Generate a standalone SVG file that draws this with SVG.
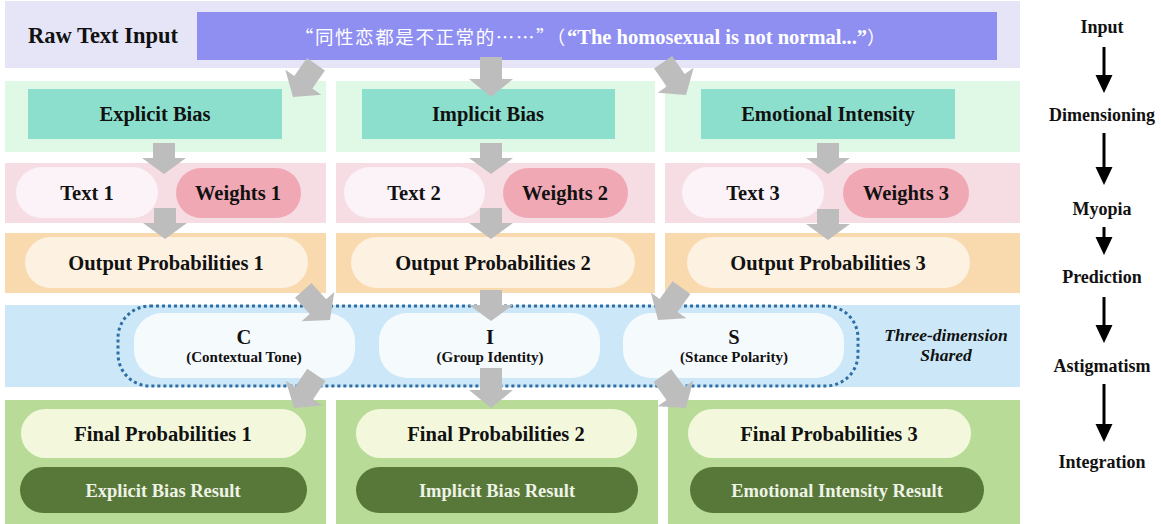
<svg xmlns="http://www.w3.org/2000/svg" width="1161" height="524" viewBox="0 0 1161 524">
<defs>
<style>
text{font-family:"Liberation Serif","Times New Roman",serif;font-weight:bold;fill:#111;text-anchor:middle}
.cjk{font-family:"Noto Sans CJK SC",sans-serif;font-weight:normal;font-size:18.5px;letter-spacing:1.6px}
.l18{font-size:20.5px}
.l20{font-size:22.5px}
.small{font-size:15px}
.side{font-size:18px}
.res{font-size:18.5px;fill:#eef3e6}
.band-lav{fill:#e5e5f7}
.band-mint{fill:#e0f8e6}
.band-pink{fill:#f5dde3}
.band-org{fill:#f9d9ae}
.band-blue{fill:#cce8f8}
.band-grn{fill:#b8dc98}
.teal{fill:#8ddfcd}
.tpill{fill:#fcf3f8}
.wpill{fill:#f0a8b5}
.opill{fill:#fdf1e1}
.cpill{fill:#f5fafd}
.fpill{fill:#f3f8dd}
.rpill{fill:#58783a}
.garrow{fill:#bdbdbd}
.barrow{stroke:#000;stroke-width:3;fill:none}
</style>
<path id="ga" d="M-11,-40 L11,-40 L11,-18 L22,-18 L0,0 L-22,-18 L-11,-18 Z"/>
<path id="gs" d="M-11,-31 L11,-31 L11,-16 L22,-16 L0,0 L-22,-16 L-11,-16 Z"/>
<path id="bh" d="M-8.5,-18 L8.5,-18 L0,0 Z"/>
</defs>
<rect width="1161" height="524" fill="#fff"/>

<g id="bands">
<rect class="band-lav" x="5" y="1" width="1015" height="67"/>
<rect class="band-mint" x="5" y="81" width="321" height="71"/>
<rect class="band-mint" x="336" y="81" width="319" height="71"/>
<rect class="band-mint" x="665" y="81" width="355" height="71"/>
<rect class="band-pink" x="5" y="163" width="321" height="60"/>
<rect class="band-pink" x="336" y="163" width="319" height="60"/>
<rect class="band-pink" x="665" y="163" width="355" height="60"/>
<rect class="band-org" x="5" y="233" width="321" height="60"/>
<rect class="band-org" x="336" y="233" width="319" height="60"/>
<rect class="band-org" x="665" y="233" width="355" height="60"/>
<rect class="band-blue" x="5" y="305" width="1015" height="82"/>
<rect class="band-grn" x="5" y="400" width="321" height="124"/>
<rect class="band-grn" x="336" y="400" width="322" height="124"/>
<rect class="band-grn" x="668" y="400" width="352" height="124"/>
</g>

<g id="raw-label"><text class="l20" x="103" y="43">Raw Text Input</text></g>
<g id="raw-input">
<rect x="197" y="12" width="800" height="48" fill="#8f8ff2"/>
<text x="591" y="44" style="font-size:20.5px;fill:#fff"><tspan class="cjk">“同性恋都是不正常的……”（</tspan>“The homosexual is not normal...”<tspan class="cjk">）</tspan></text>
</g>

<g id="explicit-bias"><rect class="teal" x="28" y="89" width="254" height="50"/><text class="l18" x="155" y="121">Explicit Bias</text></g>
<g id="implicit-bias"><rect class="teal" x="362" y="89" width="253" height="50"/><text class="l18" x="488" y="121">Implicit Bias</text></g>
<g id="emotional-intensity"><rect class="teal" x="701" y="89" width="254" height="50"/><text class="l18" x="828" y="121">Emotional Intensity</text></g>

<g id="text1"><rect class="tpill" x="16" y="167" width="142" height="51" rx="25.5"/><text class="l18" x="87" y="200">Text 1</text></g>
<g id="weights1"><rect class="wpill" x="176" y="168" width="125" height="50" rx="25"/><text class="l18" x="238" y="200">Weights 1</text></g>
<g id="text2"><rect class="tpill" x="344" y="167" width="141" height="51" rx="25.5"/><text class="l18" x="414" y="200">Text 2</text></g>
<g id="weights2"><rect class="wpill" x="503" y="168" width="125" height="50" rx="25"/><text class="l18" x="565" y="200">Weights 2</text></g>
<g id="text3"><rect class="tpill" x="682" y="167" width="142" height="51" rx="25.5"/><text class="l18" x="753" y="200">Text 3</text></g>
<g id="weights3"><rect class="wpill" x="843" y="168" width="126" height="50" rx="25"/><text class="l18" x="906" y="200">Weights 3</text></g>

<g id="output1"><rect class="opill" x="25" y="237" width="283" height="51" rx="25.5"/><text class="l18" x="166" y="270">Output Probabilities 1</text></g>
<g id="output2"><rect class="opill" x="351" y="237" width="284" height="51" rx="25.5"/><text class="l18" x="493" y="270">Output Probabilities 2</text></g>
<g id="output3"><rect class="opill" x="687" y="237" width="283" height="51" rx="25.5"/><text class="l18" x="828" y="270">Output Probabilities 3</text></g>

<g id="shared">
<rect x="118" y="306" width="740" height="80" rx="32" fill="none" stroke="#2f6ea5" stroke-width="3" stroke-dasharray="3 3"/>
<text x="946" y="341" style="font-size:17.5px;font-style:italic">Three-dimension</text>
<text x="946" y="361" style="font-size:17.5px;font-style:italic">Shared</text>
</g>
<g id="c-node"><rect class="cpill" x="134" y="313" width="221" height="65" rx="28"/><text class="l18" x="244" y="344">C</text><text class="small" x="244" y="362">(Contextual Tone)</text></g>
<g id="i-node"><rect class="cpill" x="379" y="313" width="221" height="65" rx="28"/><text class="l18" x="490" y="344">I</text><text class="small" x="490" y="362">(Group Identity)</text></g>
<g id="s-node"><rect class="cpill" x="623" y="313" width="221" height="65" rx="28"/><text class="l18" x="734" y="344">S</text><text class="small" x="734" y="362">(Stance Polarity)</text></g>

<g id="final1"><rect class="fpill" x="21" y="409" width="285" height="49" rx="24.5"/><text class="l18" x="163" y="441">Final Probabilities 1</text></g>
<g id="final2"><rect class="fpill" x="356" y="409" width="281" height="49" rx="24.5"/><text class="l18" x="496" y="441">Final Probabilities 2</text></g>
<g id="final3"><rect class="fpill" x="688" y="409" width="283" height="49" rx="24.5"/><text class="l18" x="829" y="441">Final Probabilities 3</text></g>

<g id="result1"><rect class="rpill" x="20" y="467" width="287" height="46" rx="23"/><text class="res" x="163" y="497">Explicit Bias Result</text></g>
<g id="result2"><rect class="rpill" x="356" y="467" width="282" height="46" rx="23"/><text class="res" x="497" y="497">Implicit Bias Result</text></g>
<g id="result3"><rect class="rpill" x="690" y="467" width="294" height="46" rx="23"/><text class="res" x="837" y="497">Emotional Intensity Result</text></g>

<g id="stages">
<text class="side" x="1102" y="33">Input</text>
<text class="side" x="1102" y="121">Dimensioning</text>
<text class="side" x="1102" y="215">Myopia</text>
<text class="side" x="1102" y="283">Prediction</text>
<text class="side" x="1102" y="372">Astigmatism</text>
<text class="side" x="1102" y="468">Integration</text>
</g>

<g id="connectors">
<g class="garrow">
<use href="#ga" transform="translate(293,97) rotate(35)"/>
<use href="#ga" transform="translate(491,97)"/>
<use href="#ga" transform="translate(686,95) rotate(-35)"/>
<use href="#gs" transform="translate(164,174)"/>
<use href="#gs" transform="translate(165,239)"/>
<use href="#gs" transform="translate(491,174)"/>
<use href="#gs" transform="translate(491,239)"/>
<use href="#gs" transform="translate(828,174)"/>
<use href="#gs" transform="translate(828,240)"/>
<use href="#ga" transform="translate(330,320) rotate(-42)"/>
<use href="#gs" transform="translate(491,321)"/>
<use href="#ga" transform="translate(658,320) rotate(36)"/>
<use href="#ga" transform="translate(294,408) rotate(34)"/>
<use href="#ga" transform="translate(491,408)"/>
<use href="#ga" transform="translate(686,408) rotate(-36)"/>
</g>
<g>
<line class="barrow" x1="1104" y1="47" x2="1104" y2="77"/><use href="#bh" transform="translate(1104,93)"/>
<line class="barrow" x1="1104" y1="133" x2="1104" y2="169"/><use href="#bh" transform="translate(1104,185)"/>
<line class="barrow" x1="1104" y1="227" x2="1104" y2="239"/><use href="#bh" transform="translate(1104,255)"/>
<line class="barrow" x1="1104" y1="297" x2="1104" y2="327"/><use href="#bh" transform="translate(1104,343)"/>
<line class="barrow" x1="1104" y1="384" x2="1104" y2="426"/><use href="#bh" transform="translate(1104,442)"/>
</g>
</g>
</svg>
